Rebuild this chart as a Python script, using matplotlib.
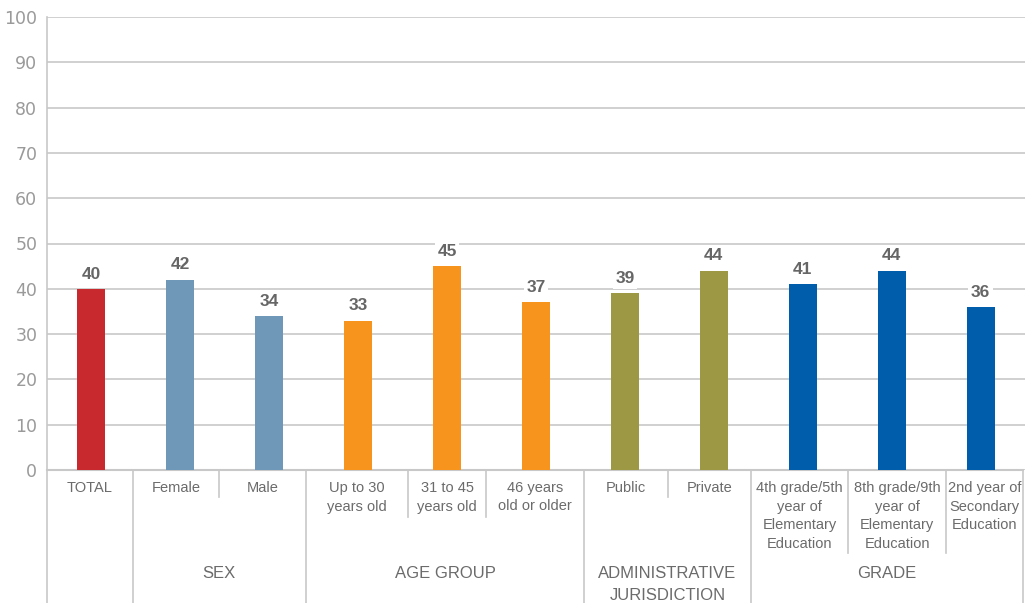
import matplotlib.pyplot as plt
from matplotlib.transforms import blended_transform_factory

categories = ["TOTAL", "Female", "Male", "Up to 30\nyears old", "31 to 45\nyears old",
              "46 years\nold or older", "Public", "Private",
              "4th grade/5th\nyear of\nElementary\nEducation",
              "8th grade/9th\nyear of\nElementary\nEducation",
              "2nd year of\nSecondary\nEducation"]
values = [40, 42, 34, 33, 45, 37, 39, 44, 41, 44, 36]
groups = ["", "SEX", "AGE GROUP", "ADMINISTRATIVE\nJURISDICTION", "GRADE"]
group_sizes = [1, 2, 3, 2, 3]
group_colors = ["#C8292F", "#6E97B8", "#F7941E", "#9C9844", "#005DAC"]

# cell borders of the label table under the axis (data x units)
cell_edges = [-0.5, 0.464, 1.438, 2.413, 3.564, 4.438, 5.543, 6.484, 7.415, 8.513, 9.612, 10.474]
# how far each inner (sub-category) border runs down, in pixels from top
sub_line_bottom = {2: 497, 4: 517, 5: 517, 7: 497, 9: 553, 10: 553}

W, H = 1027, 603
fig = plt.figure(figsize=(W / 100, H / 100), dpi=100)
ax = fig.add_axes([47 / W, (H - 470) / H, 978 / W, 453 / H])

GRID = "#C8C8C8"
TXT = "#6B6B6B"
plt.rcParams["font.family"] = ["Liberation Sans", "DejaVu Sans"]

colors = []
for c, n in zip(group_colors, group_sizes):
    colors += [c] * n

x = list(range(len(values)))
ax.bar(x, values, width=0.315, color=colors, zorder=3)
for xi, v in zip(x, values):
    ax.text(xi, v + 1.6, str(v), ha="center", va="bottom", fontsize=12.5,
            fontweight="bold", color="#666666", zorder=4,
            bbox=dict(boxstyle="square,pad=0.15", fc="white", ec="none"))

ax.set_xlim(-0.5, 10.5)
ax.set_ylim(0, 100)
ax.set_yticks(range(0, 101, 10))
ax.tick_params(axis="y", length=0, labelsize=12.5, labelcolor="#9A9A9A", pad=7)
ax.set_xticks([])
ax.yaxis.grid(True, color=GRID, lw=1.2, zorder=0)
for s in ["top", "right", "bottom"]:
    ax.spines[s].set_visible(False)
ax.spines["left"].set_color(GRID)
ax.spines["left"].set_linewidth(1.2)

# label table below the bars
tr = blended_transform_factory(ax.transData, fig.transFigure)


def fy(py):
    return (H - py) / H


ax.plot([-0.5, 10.474], [fy(470)] * 2, color=GRID, lw=1.5, transform=tr, clip_on=False)
ax.plot([-0.5, -0.5], [fy(470), fy(603)], color=GRID, lw=1.2, transform=tr, clip_on=False)

group_edges = [0]
for n in group_sizes:
    group_edges.append(group_edges[-1] + n)
for i in group_edges[1:]:
    ax.plot([cell_edges[i]] * 2, [fy(470), fy(603)], color=GRID, lw=1.2,
            transform=tr, clip_on=False)
for i, bottom in sub_line_bottom.items():
    ax.plot([cell_edges[i]] * 2, [fy(470), fy(bottom)], color=GRID, lw=1.2,
            transform=tr, clip_on=False)

for i, label in enumerate(categories):
    cx = (cell_edges[i] + cell_edges[i + 1]) / 2
    for k, line in enumerate(label.split("\n")):
        ax.text(cx, fy(488 + 18.5 * k), line, ha="center", va="center",
                fontsize=10.5, color=TXT, transform=tr)

for g, label in enumerate(groups):
    a, b = group_edges[g], group_edges[g + 1]
    cx = (cell_edges[a] + cell_edges[b]) / 2
    for k, line in enumerate(label.split("\n")):
        ax.text(cx, fy(573 + 22 * k), line, ha="center", va="center",
                fontsize=12, color=TXT, transform=tr)

fig.savefig("out.png", dpi=100)
